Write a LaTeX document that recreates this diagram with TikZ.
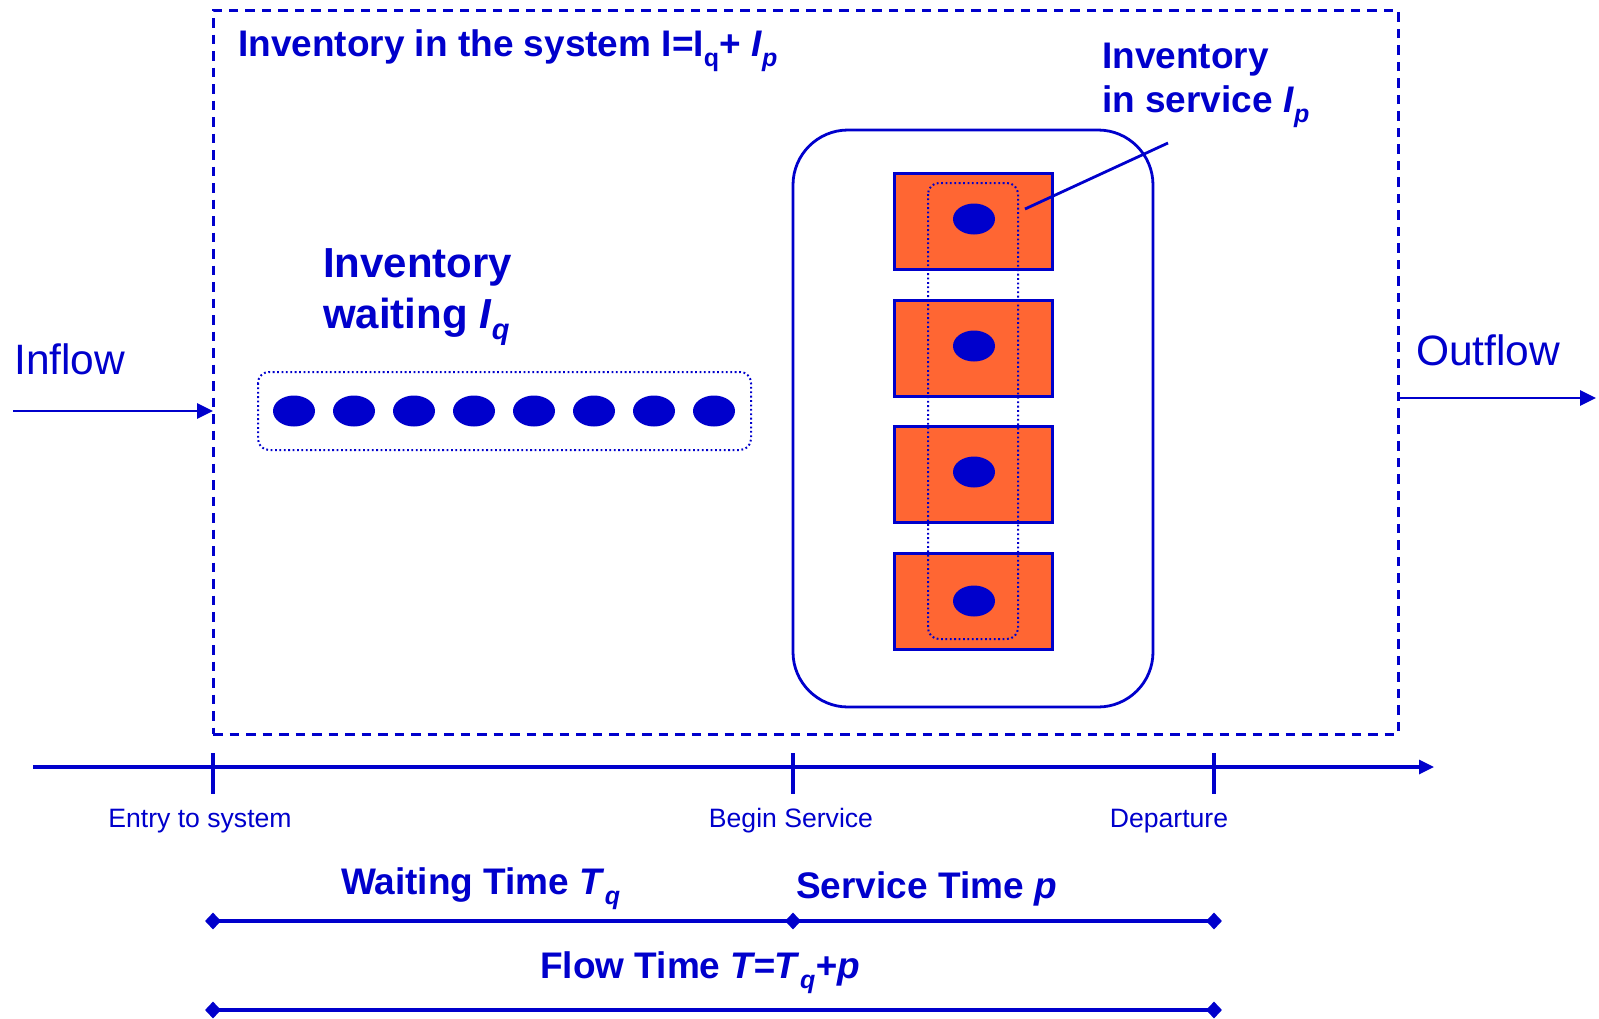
\documentclass[tikz,border=0pt]{standalone}
\usepackage{fontspec}
\setmainfont{Liberation Sans}
\usetikzlibrary{arrows.meta,shapes.geometric}
\definecolor{tblue}{RGB}{0,0,204}
\definecolor{org}{RGB}{255,102,51}
\newcommand\lsub[2]{\raisebox{-0.28em}{\fontsize{#1}{#1}\selectfont #2}}
\begin{document}
\begin{tikzpicture}[x=1pt,y=-1pt,
  txt/.style={inner sep=0pt, anchor=base west, text=tblue},
  boldA/.style={txt, font=\fontsize{37}{44}\selectfont\bfseries},
  boldB/.style={txt, font=\fontsize{42}{50}\selectfont\bfseries},
  flowtxt/.style={txt, font=\fontsize{42.5}{50}\selectfont},
  ticktxt/.style={inner sep=0pt, anchor=base, text=tblue, font=\fontsize{26.6}{30}\selectfont},
  flowarrow/.style={draw=tblue, line width=2.8pt, -{Triangle[length=16pt,width=15pt]}},
  sysbox/.style={draw=tblue, line width=3pt, dash pattern=on 9.5pt off 7pt, inner sep=0pt, outer sep=0pt},
  dotbox/.style={draw=tblue, line width=2pt, dash pattern=on 1.8pt off 2.6pt, rounded corners=11pt},
  station/.style={draw=tblue, line width=3pt, fill=org, minimum width=158pt, minimum height=96pt, inner sep=0pt},
  item/.style={ellipse, fill=tblue, minimum width=42pt, minimum height=31pt, inner sep=0pt},
  tline/.style={draw=tblue, line width=3.2pt},
  dia/.style={diamond, fill=tblue, minimum width=16pt, minimum height=17pt, inner sep=0pt}
]
\useasboundingbox (0,0) rectangle (1599,1018);

% system boundary
\node[sysbox, minimum width=1185pt, minimum height=724pt] (sys) at (805.5,372) {};
\node[boldA] (title) at (238,56) {Inventory in the system I=I\lsub{25}{q}+ \textit{I}\lsub{25}{\textit{p}}};

% inflow / outflow
\node[flowtxt] (inflow) at (14,374) {Inflow};
\coordinate (inS) at (13,411);
\draw[flowarrow] (inS) -- (sys.west |- inS);
\node[flowtxt] (outflow) at (1416,365) {Outflow};
\coordinate (outE) at (1596,398);
\draw[flowarrow] (sys.east |- outE) -- (outE);

% queue
\node[boldB] (wait1) at (323,277) {Inventory};
\node[boldB] (wait2) at (323,328) {waiting \textit{I}\lsub{29}{\textit{q}}};
\draw[dotbox] (258,372) rectangle (751,450);
\foreach \i in {0,...,7} {
  \node[item] (q\i) at (294+60*\i,411) {};
}

% service
\draw[draw=tblue, line width=2.8pt, rounded corners=55pt] (793,130) rectangle (1153,707);
\node[station] (s1) at (973.5,221) {};
\node[station] (s2) at (973.5,348) {};
\node[station] (s3) at (973.5,474.5) {};
\node[station] (s4) at (973.5,601.5) {};
\node[item] (p1) at (974,219) {};
\node[item] (p2) at (974,346) {};
\node[item] (p3) at (974,472) {};
\node[item] (p4) at (974,601) {};
\draw[dotbox] (928,183) rectangle (1018,639);
\node[boldA] (serv1) at (1102,68) {Inventory};
\node[boldA] (serv2) at (1102,112) {in service \textit{I}\lsub{25}{\textit{p}}};
\coordinate (ldA) at (1168,143);
\coordinate (ldB) at (1025,209);
\draw[draw=tblue, line width=2.8pt] (ldA) -- (ldB);

% timeline
\coordinate (tl0) at (33,767);
\coordinate (tl1) at (1434,767);
\draw[tline, -{Triangle[length=15pt,width=14pt]}] (tl0) -- (tl1);
\coordinate (tEa) at (213,753); \coordinate (tEb) at (213,794);
\coordinate (tBa) at (793,753); \coordinate (tBb) at (793,794);
\coordinate (tDa) at (1214,753); \coordinate (tDb) at (1214,794);
\draw[tline] (tEa) -- (tEb);
\draw[tline] (tBa) -- (tBb);
\draw[tline] (tDa) -- (tDb);
\node[ticktxt] (entry) at (200,827) {Entry to system};
\node[ticktxt] (begin) at (791,827) {Begin Service};
\node[ticktxt] (depart) at (1169,827) {Departure};

% time spans
\node[boldA] (wt) at (341,894) {Waiting Time \textit{T}\lsub{25}{\textit{q}}};
\node[boldA] (st) at (796,898) {Service Time \textit{p}};
\node[boldA] (ft) at (540,978) {Flow Time \textit{T=T}\lsub{25}{\textit{q}}\textit{+p}};
\node[dia] (d1) at (213,921) {};
\node[dia] (d2) at (793,921) {};
\node[dia] (d3) at (1214,921) {};
\node[dia] (d4) at (213,1010) {};
\node[dia] (d5) at (1214,1010) {};
\draw[tline] (d1.center) -- (d2.center);
\draw[tline] (d2.center) -- (d3.center);
\draw[tline] (d4.center) -- (d5.center);
\end{tikzpicture}
\end{document}
